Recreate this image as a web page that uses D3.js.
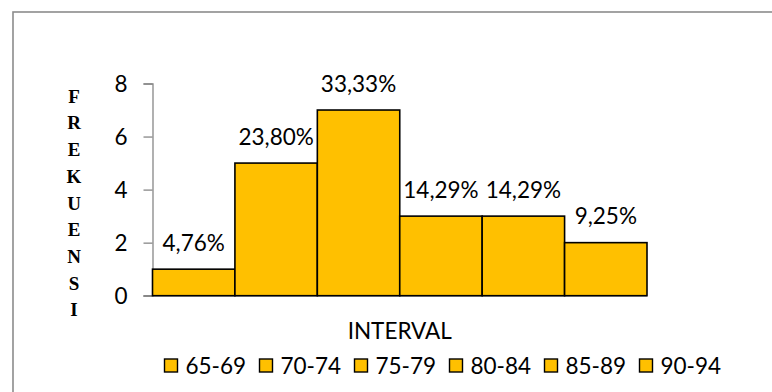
<!DOCTYPE html>
<html>
<head>
<meta charset="utf-8">
<script src="https://cdn.jsdelivr.net/npm/d3@7"></script>
<style>
  html, body { margin: 0; padding: 0; background: #fff; }
  svg { display: block; }
</style>
</head>
<body>
<svg id="chart" width="772" height="392"></svg>
<script>
// Interval classes, their frequencies and the percentage labels printed above each bar
const intervals = ["65-69", "70-74", "75-79", "80-84", "85-89", "90-94"];
const frequencies = [1, 5, 7, 3, 3, 2];
const percentLabels = ["4,76%", "23,80%", "33,33%", "14,29%", "14,29%", "9,25%"];
const yTicks = [0, 2, 4, 6, 8];
const yTitle = "FREKUENSI";
const xTitle = "INTERVAL";

const svg = d3.select("#chart");
const font = "Lato, 'Open Sans', sans-serif";
const fontSize = 22.5;
const barFill = "#FFC000";
const axisColor = "#878787";

// Outer chart frame (runs past the right and bottom edges)
svg.append("rect")
  .attr("x", 13).attr("y", 12)
  .attr("width", 800).attr("height", 420)
  .attr("fill", "none")
  .attr("stroke", "#8c8c8c")
  .attr("stroke-width", 1.6);

const plot = { left: 152.5, right: 647, top: 83.5, bottom: 295.7 };

const x = d3.scaleBand()
  .domain(intervals)
  .range([plot.left, plot.right])
  .padding(0);

const y = d3.scaleLinear()
  .domain([0, 8])
  .range([plot.bottom, plot.top]);

// Y axis
const yAxis = svg.append("g")
  .attr("transform", `translate(${plot.left},0)`)
  .call(d3.axisLeft(y).tickValues(yTicks).tickSize(9).tickPadding(16).tickSizeOuter(9));
yAxis.select(".domain").attr("stroke", axisColor).attr("stroke-width", 1.3);
yAxis.selectAll(".tick line").attr("stroke", axisColor).attr("stroke-width", 1.3);
yAxis.selectAll(".tick text")
  .attr("font-family", font).attr("font-size", fontSize).attr("fill", "#000")
  .attr("dy", "0.36em");

// X axis baseline (no tick labels under the bars)
svg.append("line")
  .attr("x1", plot.left - 9).attr("x2", plot.right)
  .attr("y1", plot.bottom).attr("y2", plot.bottom)
  .attr("stroke", axisColor).attr("stroke-width", 1.6);

// Bars
svg.append("g").selectAll("rect")
  .data(frequencies)
  .join("rect")
  .attr("x", (d, i) => x(intervals[i]))
  .attr("y", d => y(d))
  .attr("width", x.bandwidth())
  .attr("height", d => y(0) - y(d))
  .attr("fill", barFill)
  .attr("stroke", "#000")
  .attr("stroke-width", 1.6);

// Percentage labels above bars
svg.append("g").selectAll("text")
  .data(frequencies)
  .join("text")
  .attr("x", (d, i) => x(intervals[i]) + x.bandwidth() / 2)
  .attr("y", d => y(d) - 18.5)
  .attr("text-anchor", "middle")
  .attr("font-family", font)
  .attr("font-size", fontSize)
  .attr("fill", "#000")
  .text((d, i) => percentLabels[i]);

// Vertical stacked y title
svg.append("g").selectAll("text")
  .data(yTitle.split(""))
  .join("text")
  .attr("x", 74)
  .attr("y", (d, i) => 102.7 + i * 26.7)
  .attr("text-anchor", "middle")
  .attr("font-family", "'Liberation Serif', 'Times New Roman', serif")
  .attr("font-weight", "bold")
  .attr("font-size", 19)
  .attr("fill", "#000")
  .text(d => d);

// X title
svg.append("text")
  .attr("x", (plot.left + plot.right) / 2)
  .attr("y", 339)
  .attr("text-anchor", "middle")
  .attr("font-family", font)
  .attr("font-size", fontSize)
  .attr("fill", "#000")
  .text(xTitle);

// Legend
const legend = svg.append("g").selectAll("g")
  .data(intervals)
  .join("g")
  .attr("transform", (d, i) => `translate(${164.5 + i * 95},359)`);
legend.append("rect")
  .attr("width", 13).attr("height", 13)
  .attr("fill", barFill)
  .attr("stroke", "#000")
  .attr("stroke-width", 1.4);
legend.append("text")
  .attr("x", 21).attr("y", 6.5)
  .attr("dy", "0.36em")
  .attr("font-family", font)
  .attr("font-size", fontSize)
  .attr("fill", "#000")
  .text(d => d);
</script>
</body>
</html>
